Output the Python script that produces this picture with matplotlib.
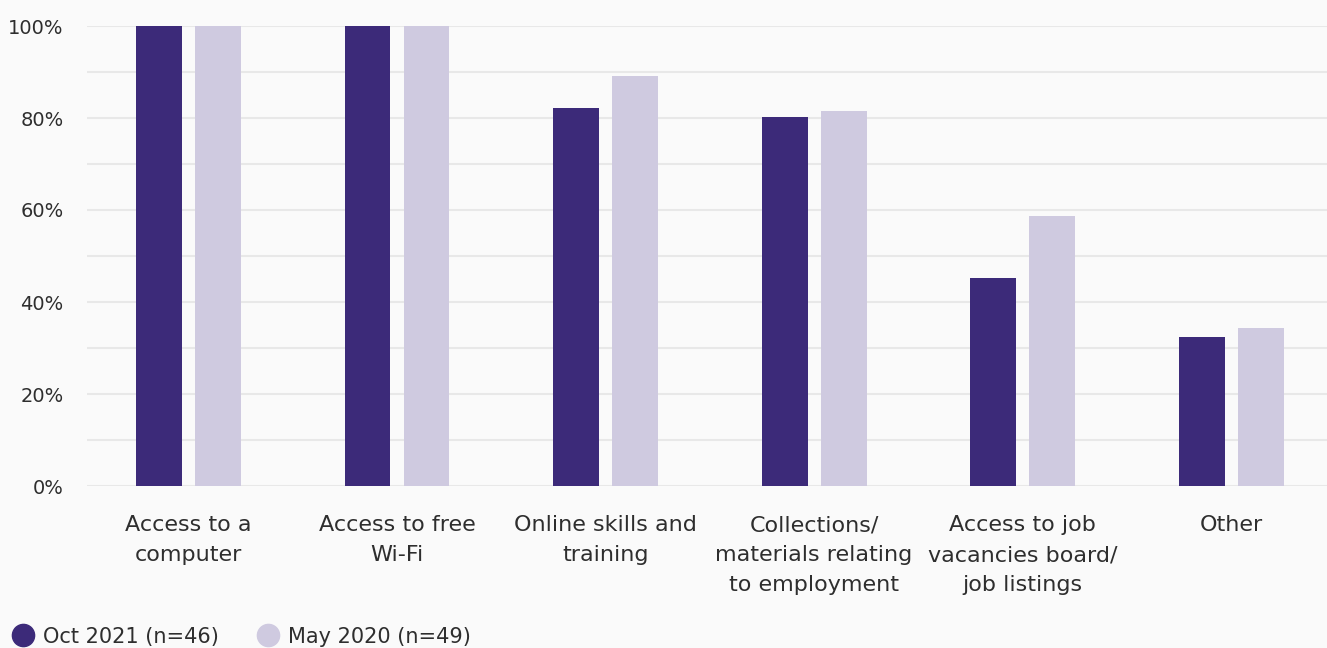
import matplotlib.pyplot as plt
import numpy as np
from matplotlib.lines import Line2D

categories = ['Access to a\ncomputer', 'Access to free\nWi-Fi', 'Online skills and\ntraining',
              'Collections/\nmaterials relating\nto employment',
              'Access to job\nvacancies board/\njob listings', 'Other']
oct_2021 = [100, 100, 82.2, 80.2, 45.2, 32.4]
may_2020 = [100, 100, 89.1, 81.5, 58.7, 34.3]
series_labels = ['Oct 2021 (n=46)', 'May 2020 (n=49)']

DARK = '#3c2a79'
LIGHT = '#cfcae0'
BG = '#fafafa'
TEXT = '#2e2e2e'

plt.rcParams['font.family'] = ['DejaVu Sans']

fig = plt.figure(figsize=(13.27, 6.48), dpi=100, facecolor=BG)
ax = fig.add_axes([87 / 1327, 1 - 486 / 648, 1 - 87 / 1327, 460 / 648])
ax.set_facecolor(BG)

x = np.arange(len(categories))
w = 0.22
off = 0.1415
ax.bar(x - off, oct_2021, w, color=DARK, zorder=3)
ax.bar(x + off, may_2020, w, color=LIGHT, zorder=3)

ax.set_xlim(-0.487, 5.46)
ax.set_ylim(0, 100)
ax.set_yticks(np.arange(0, 101, 20))
ax.set_yticks(np.arange(10, 100, 20), minor=True)
ax.set_yticklabels([f'{v}%' for v in range(0, 101, 20)])
ax.grid(axis='y', which='both', color='#e8e8e8', linewidth=1.5, zorder=0)
ax.tick_params(axis='y', which='both', length=0, pad=17, labelsize=14, labelcolor=TEXT)
ax.set_xticks(x)
ax.set_xticklabels(categories, linespacing=1.63)
ax.tick_params(axis='x', length=0, pad=21, labelsize=16, labelcolor=TEXT)
for s in ax.spines.values():
    s.set_visible(False)

handles = [Line2D([], [], marker='o', linestyle='', markersize=16, color=c)
           for c in (DARK, LIGHT)]
fig.legend(handles, series_labels, loc='lower left', bbox_to_anchor=(-0.006, -0.027),
           frameon=False, ncol=2, fontsize=15, handletextpad=0.35, columnspacing=1.75,
           labelcolor=TEXT, handlelength=1.2)

fig.savefig('out.png', dpi=100, facecolor=BG)
